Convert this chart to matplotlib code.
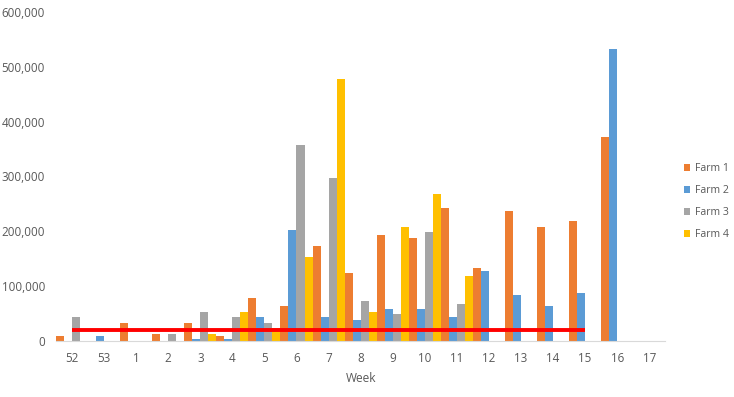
import numpy as np
import matplotlib
matplotlib.use("Agg")
import matplotlib.pyplot as plt
from matplotlib.ticker import FuncFormatter

plt.rcParams['font.family'] = ['Open Sans', 'DejaVu Sans']

weeks = ['52', '53', '1', '2', '3', '4', '5', '6', '7', '8', '9',
         '10', '11', '12', '13', '14', '15', '16', '17']

farm1 = [9000, 0, 33000, 13000, 33000, 9000, 78000, 64000, 173000, 124000,
         193000, 188000, 243000, 133000, 237000, 208000, 219000, 372000, 0]
farm2 = [0, 9000, 0, 0, 3500, 3500, 44000, 202000, 44000, 38000,
         58000, 58000, 44000, 128000, 84000, 64000, 87000, 532000, 0]
farm3 = [44000, 0, 0, 13000, 53000, 44000, 33000, 357000, 297000, 73000,
         49000, 199000, 68000, 0, 0, 0, 0, 0, 0]
farm4 = [0, 0, 0, 0, 13000, 53000, 24000, 153000, 478000, 53000,
         208000, 268000, 118000, 0, 0, 0, 0, 0, 0]

# threshold line, weeks 52 .. 15
threshold = [20000] * 17

series = [('Farm 1', farm1, '#ED7D31'),
          ('Farm 2', farm2, '#5B9BD5'),
          ('Farm 3', farm3, '#A5A5A5'),
          ('Farm 4', farm4, '#FFC000')]

fig = plt.figure(figsize=(7.34, 3.97), dpi=100)
ax = fig.add_axes([0.0763, 0.141, 0.830, 0.829])

x = np.arange(len(weeks))
w = 0.25
for i, (name, vals, col) in enumerate(series):
    ax.bar(x + (i - 1.5) * w, vals, width=w, color=col, label=name, linewidth=0)

ax.plot(np.arange(len(threshold)), threshold, color='#FF0000', linewidth=2.8,
        solid_capstyle='butt', zorder=3)

ax.set_xlim(-0.5, len(weeks) - 0.5)
ax.set_ylim(0, 600000)
ax.set_yticks(np.arange(0, 600001, 100000))
ax.yaxis.set_major_formatter(FuncFormatter(lambda v, p: f'{int(v):,}'))
ax.set_xticks(x)
ax.set_xticklabels(weeks)

for s in ['top', 'right', 'left']:
    ax.spines[s].set_visible(False)
ax.spines['bottom'].set_color('#D9D9D9')
ax.tick_params(axis='both', length=0, colors='#595959', labelsize=8.4)
ax.tick_params(axis='x', pad=8)
ax.tick_params(axis='y', pad=8)
ax.set_xlabel('Week', color='#595959', fontsize=8.6, labelpad=5)

handles, labels = ax.get_legend_handles_labels()
leg = fig.legend(handles, labels, loc='center left',
                 bbox_to_anchor=(684 / 734, 1 - 201.5 / 397), frameon=False,
                 fontsize=7.6, handlelength=0.6, handleheight=0.6,
                 labelspacing=1.05, handletextpad=0.4, borderpad=0,
                 borderaxespad=0)
for t in leg.get_texts():
    t.set_color('#595959')

fig.savefig('out.png', dpi=100)
